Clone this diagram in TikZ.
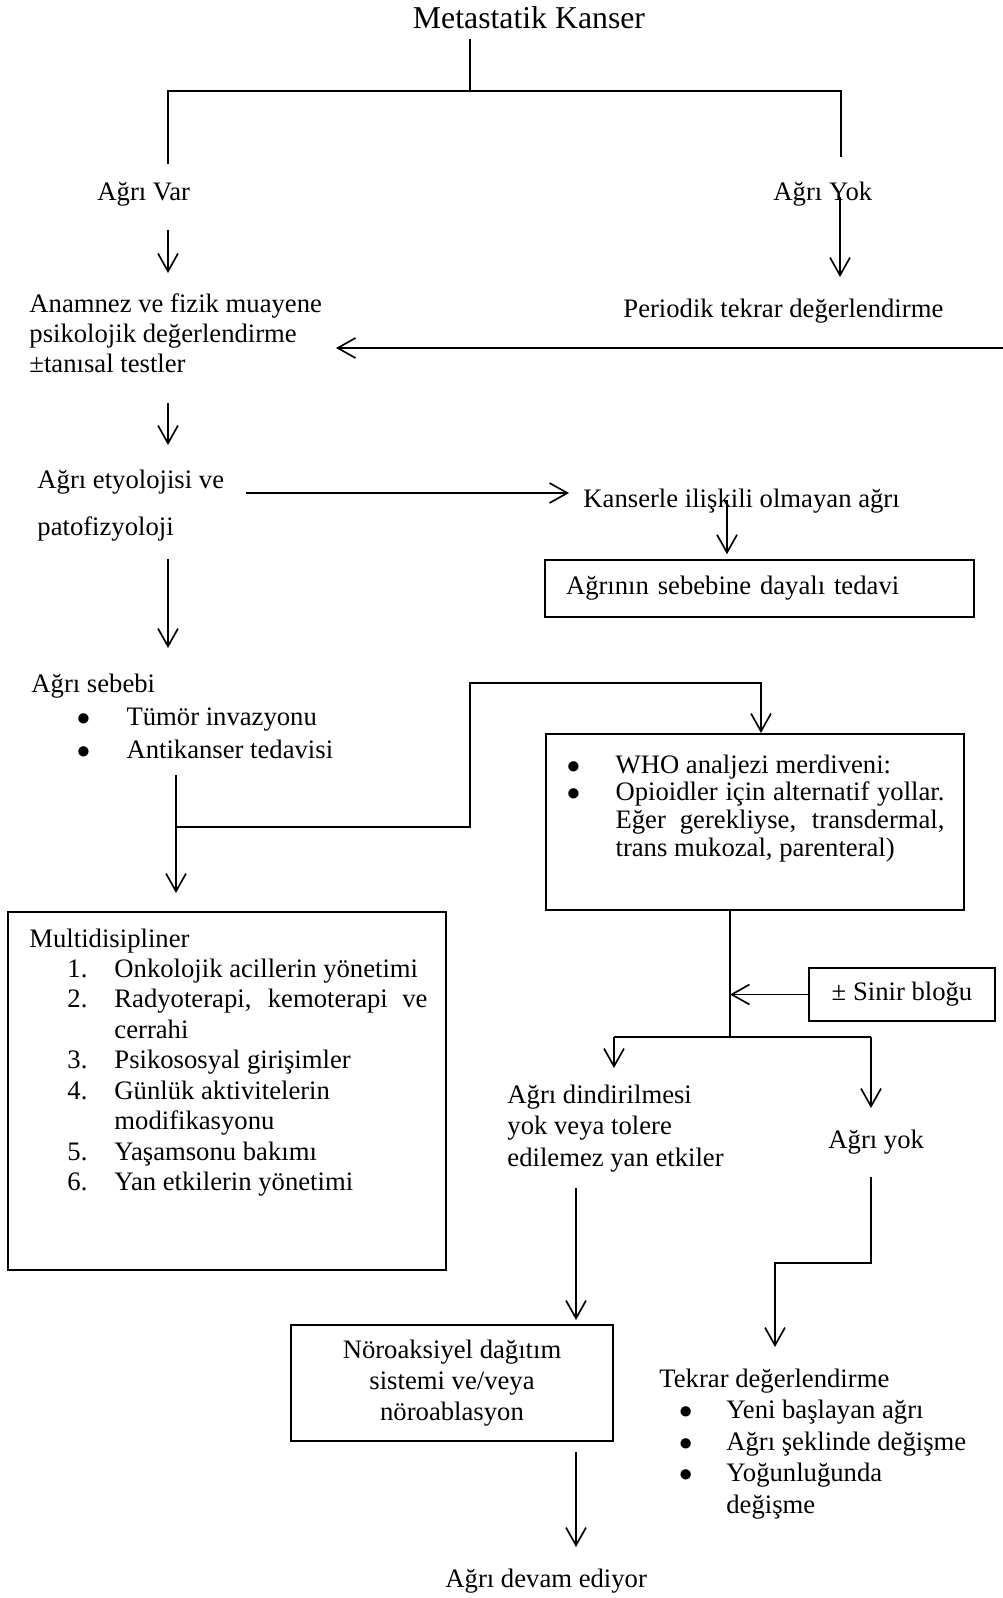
\documentclass[tikz,border=0pt]{standalone}
\usepackage{fontspec}
\setmainfont{Liberation Serif}
\usetikzlibrary{arrows.meta,positioning}

\tikzset{
  txt/.style={inner sep=0pt, anchor=base west, font=\fontsize{12}{13.7}\selectfont},
  box/.style={draw, line width=0.7pt, inner sep=0pt, font=\fontsize{12}{13.7}\selectfont},
  conn/.style={line width=0.75pt},
  arr/.style={line width=0.75pt, -{Straight Barb[length=8pt,width=9pt,line width=0.75pt]}}
}

\begin{document}
\begin{tikzpicture}[x=0.45pt, y=-0.45pt]
\useasboundingbox (0,0) rectangle (1003,1598);

% Title and first split
\node[txt, anchor=base, font=\fontsize{14.3}{16}\selectfont] (kanser) at (529,28) {Metastatik Kanser};
\node[txt] (var) at (97,200) {Ağrı Var};
\node[txt] (yok) at (773,200) {Ağrı Yok};

% Left column texts (multi-line nodes sit on their last line)
\node[txt, align=left, font=\fontsize{12}{13.3}\selectfont] (anam) at (29,372)
  {Anamnez ve fizik muayene\\psikolojik değerlendirme\\±tanısal testler};
\node[txt] (periodik) at (623,317) {Periodik tekrar değerlendirme};
\node[txt, align=left] (ety) at (37,535) {Ağrı etyolojisi ve\\[7.45pt]patofizyoloji};
\node[txt] (kans) at (583,507) {Kanserle ilişkili olmayan ağrı};
\node[box, text width=174.15pt, align=left, minimum width=193.05pt, minimum height=25.65pt]
  (sebebine) at (759.5,588.5) {Ağrının sebebine dayalı tedavi};

% Pain causes
\node[txt, font=\fontsize{12}{14.85}\selectfont] (sebebi) at (31,692)
  {\begin{tabular}[t]{@{\hspace{20.4pt}}p{22.4pt}@{}l@{}}
   \multicolumn{2}{@{}l@{}}{Ağrı sebebi}\\
   $\bullet$ & Tümör invazyonu\\
   $\bullet$ & Antikanser tedavisi
   \end{tabular}};

% WHO box
\node[box, minimum width=188.1pt, minimum height=79.2pt] (who) at (755,822) {};
\node[txt, font=\fontsize{12}{12.5}\selectfont] (whotext) at (566.5,773)
  {\begin{tabular}[t]{@{}p{21.9pt}@{}p{148pt}@{}}
   $\bullet$ & WHO analjezi merdiveni:\\
   $\bullet$ & Opioidler için alternatif yollar.\linebreak
               Eğer gerekliyse, transdermal,\linebreak
               trans mukozal, parenteral)
   \end{tabular}};

% Multidisciplinary box
\node[box, minimum width=197.1pt, minimum height=161.1pt] (multi) at (227,1091) {};
\node[txt] (multitext) at (29,947)
  {\begin{tabular}[t]{@{\hspace{17.1pt}}p{21.15pt}@{}p{140.85pt}@{}}
   \multicolumn{2}{@{}l@{}}{Multidisipliner}\\
   1. & Onkolojik acillerin yönetimi\\
   2. & Radyoterapi, kemoterapi ve\linebreak cerrahi\\
   3. & Psikososyal girişimler\\
   4. & Günlük aktivitelerin\newline modifikasyonu\\
   5. & Yaşamsonu bakımı\\
   6. & Yan etkilerin yönetimi
   \end{tabular}};

% Right branch
\node[box, minimum width=83.7pt, minimum height=23.85pt] (sinir) at (902,994.5) {± Sinir bloğu};
\node[txt, align=left, font=\fontsize{12}{14}\selectfont] (dind) at (507,1166)
  {Ağrı dindirilmesi\\yok veya tolere\\edilemez yan etkiler};
\node[txt] (agriyok) at (828,1148) {Ağrı yok};
\node[box, align=center, minimum width=144.9pt, minimum height=52.2pt, font=\fontsize{12}{14}\selectfont]
  (noro) at (452,1383) {Nöroaksiyel dağıtım\\sistemi ve/veya\\nöroablasyon};
\node[txt, font=\fontsize{12}{14.2}\selectfont] (tekrar) at (659,1387)
  {\begin{tabular}[t]{@{\hspace{8.9pt}}p{21.2pt}@{}l@{}}
   \multicolumn{2}{@{}l@{}}{Tekrar değerlendirme}\\
   $\bullet$ & Yeni başlayan ağrı\\
   $\bullet$ & Ağrı şeklinde değişme\\
   $\bullet$ & Yoğunluğunda\\
             & değişme
   \end{tabular}};
\node[txt] (devam) at (445,1587) {Ağrı devam ediyor};

% Connector points
\coordinate (kanser-out) at (470,39);
\coordinate (split) at (470,91);
\coordinate (var-end) at (168,164);
\coordinate (yok-end) at (841,157);
\coordinate (var-out) at (168,230);
\coordinate (anam-in) at (168,273);
\coordinate (yok-out) at (840,197);
\coordinate (per-in) at (840,277);
\coordinate (back-out) at (1003,348);
\coordinate (anam-back) at (336,348);
\coordinate (anam-out) at (168,403);
\coordinate (ety-in) at (168,445);
\coordinate (ety-right) at (246,493);
\coordinate (kans-in) at (569,493);
\coordinate (kans-out) at (727,500);
\coordinate (ety-out) at (168,559);
\coordinate (sebebi-in) at (168,648);
\coordinate (sebebi-out) at (176,775);
\coordinate (branch) at (176,827);
\coordinate (multi-in) at (176,893);
\coordinate (hook) at (470,683);
\coordinate (who-in) at (761,733);
\coordinate (fork) at (730,1037);
\coordinate (fork-l) at (614,1037);
\coordinate (fork-r) at (871,1037);
\coordinate (dind-in) at (614,1068);
\coordinate (yok2-in) at (871,1108);
\coordinate (dind-out) at (576,1188);
\coordinate (noro-in) at (576,1320);
\coordinate (yok2-out) at (871,1177);
\coordinate (bend) at (775,1263);
\coordinate (tekrar-in) at (775,1347);
\coordinate (noro-out) at (576,1452);
\coordinate (devam-in) at (576,1547);

% Connectors
\draw[conn] (kanser-out) -- (split);
\draw[conn] (var-end) |- (split) -| (yok-end);
\draw[arr] (var-out) -- (anam-in);
\draw[arr] (yok-out) -- (per-in);
\draw[arr] (back-out) -- (anam-back);
\draw[arr] (anam-out) -- (ety-in);
\draw[arr] (ety-right) -- (kans-in);
\draw[arr, shorten >=2.25pt] (kans-out) -- (kans-out |- sebebine.north);
\draw[arr] (ety-out) -- (sebebi-in);
\draw[arr] (sebebi-out) -- (multi-in);
\draw[arr] (branch) -| (hook) -| (who-in);
\draw[conn] (who.south -| fork) -- (fork);
\draw[conn] (fork-l) -- (fork-r);
\draw[arr] (sinir.west) -- (sinir.west -| fork);
\draw[arr] (fork-l) -- (dind-in);
\draw[arr] (fork-r) -- (yok2-in);
\draw[arr] (dind-out) -- (noro-in);
\draw[arr] (yok2-out) |- (bend) -- (tekrar-in);
\draw[arr] (noro-out) -- (devam-in);

\end{tikzpicture}
\end{document}
